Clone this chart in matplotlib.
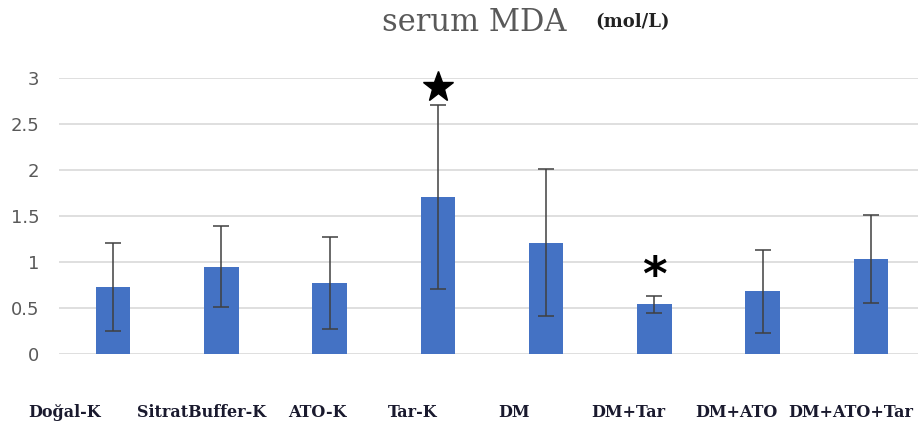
import matplotlib.pyplot as plt
import numpy as np

# grupların isimleri ve değerleri (serum MDA, mol/L)
gruplar = ['Doğal-K', 'SitratBuffer-K', 'ATO-K', 'Tar-K', 'DM', 'DM+Tar', 'DM+ATO', 'DM+ATO+Tar']
ortalama = [0.73, 0.95, 0.77, 1.71, 1.21, 0.54, 0.68, 1.03]
hata = [0.48, 0.44, 0.50, 1.00, 0.80, 0.09, 0.45, 0.48]
yildiz = [3]        # dolu yıldız olan grup
asterisk = [5]      # * olan grup
yildiz_y = [2.9]
asterisk_y = [0.83]

# etiketlerin çubuklara göre kayması (orijinal grafikte sola kaymış)
etiket_kayma = [-0.45, -0.18, -0.11, -0.23, -0.30, -0.24, -0.24, -0.19]

fig = plt.figure(figsize=(9.18, 4.37), dpi=100)
ax = fig.add_axes([59 / 918, 83 / 437, 866 / 918, 276 / 437])

x = np.arange(len(gruplar))
ax.bar(x, ortalama, width=0.32, color='#4472C4', zorder=2)
ax.errorbar(x, ortalama, yerr=hata, fmt='none', ecolor='#404040', elinewidth=1.1,
            capsize=6, capthick=1.1, zorder=3)

# anlamlılık işaretleri
ax.plot(x[yildiz], yildiz_y, marker='*', markersize=23, color='black',
        linestyle='none', clip_on=False, zorder=4)
for i, yy in zip(asterisk, asterisk_y):
    ax.text(x[i], yy, '*', fontsize=34, fontweight='bold', ha='center', va='center',
            color='black', family='DejaVu Sans')

ax.set_xlim(-0.5, len(gruplar) - 0.5)
ax.set_ylim(0, 3)
ax.set_yticks([0, 0.5, 1, 1.5, 2, 2.5, 3])
ax.set_yticklabels(['0', '0.5', '1', '1.5', '2', '2.5', '3'], fontsize=13, color='#595959')
ax.yaxis.grid(True, color='#d9d9d9', linewidth=1.2, zorder=0)
ax.set_axisbelow(True)
ax.tick_params(axis='y', length=0, pad=14)
ax.set_xticks([])
for s in ax.spines.values():
    s.set_visible(False)

# x ekseni etiketleri
for i, ad in enumerate(gruplar):
    ax.text(x[i] + etiket_kayma[i], -0.64, ad, ha='center', va='center', fontsize=11.5,
            fontweight='bold', family='DejaVu Serif', color='#1a1a2e')

# başlık
fig.text(0.517, 0.948, 'serum MDA', ha='center', va='center', fontsize=22,
         family='DejaVu Serif', color='#595959')
fig.text(0.689, 0.950, '(mol/L)', ha='center', va='center', fontsize=13,
         family='DejaVu Serif', fontweight='bold', color='#222222')

fig.savefig('out.png', dpi=100)
